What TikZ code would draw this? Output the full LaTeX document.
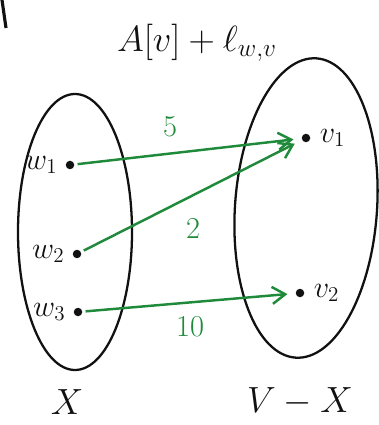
\documentclass[tikz,border=0pt]{standalone}
\usepackage{amsmath}
\usepackage{tikz}
\usetikzlibrary{arrows.meta,positioning}
\definecolor{Ink}{HTML}{111111}
\definecolor{Leaf}{HTML}{1E8A3A}

\begin{document}
\begin{tikzpicture}[>={Straight Barb[length=2.6mm,width=3.4mm]}]
    \tikzset{
      setline/.style={draw=Ink,line width=1.3pt},
      vdot/.style={circle,fill=Ink,inner sep=0pt,minimum size=1.7mm},
      vlabel/.style={font=\LARGE,text=Ink},
      edge/.style={->,draw=Leaf,line width=1.4pt,shorten >=1.6mm,shorten <=0.6mm},
      weight/.style={font=\LARGE,text=Leaf}
    }
    \useasboundingbox (0,0) rectangle (7.56,-8.5);
    \draw[setline,line width=1.8pt] (0.04,0) -- (0.12,-0.56);

    % the two sets
    \draw[setline] (1.5,-4.64) ellipse [x radius=1.14cm,y radius=2.76cm];
    \draw[setline,rotate around={-4:(6.12,-4.16)}] (6.12,-4.16) ellipse [x radius=1.42cm,y radius=3.0cm];
    \node[vlabel,font=\huge] (setx) at (1.34,-8.04) {$X$};
    \node[vlabel,font=\huge] (setrest) at (6.0,-8.04) {$V-X$};
    \node[vlabel,font=\huge] (score) at (3.94,-0.86) {$A[v]+\ell_{w,v}$};

    % vertices
    \node[vdot] (w1) at (1.4,-3.3) {};
    \node[vdot] (w2) at (1.54,-5.08) {};
    \node[vdot] (w3) at (1.56,-6.24) {};
    \node[vdot] (v1) at (6.12,-2.76) {};
    \node[vdot] (v2) at (6.0,-5.86) {};
    \node[vlabel,left=0.3mm of w1] (lw1) {$w_1$};
    \node[vlabel,left=0.3mm of w2] (lw2) {$w_2$};
    \node[vlabel,left=0.3mm of w3] (lw3) {$w_3$};
    \node[vlabel,right=0.6mm of v1] (lv1) {$v_1$};
    \node[vlabel,right=0.6mm of v2] (lv2) {$v_2$};

    % crossing edges
    \draw[edge] (w1) -- (v1);
    \draw[edge] (w2) -- (v1);
    \draw[edge] (w3) -- (v2);
    \node[weight] (c5) at (3.4,-2.54) {5};
    \node[weight] (c2) at (3.86,-4.56) {2};
    \node[weight] (c10) at (3.8,-6.54) {10};
  \end{tikzpicture}
\end{document}
